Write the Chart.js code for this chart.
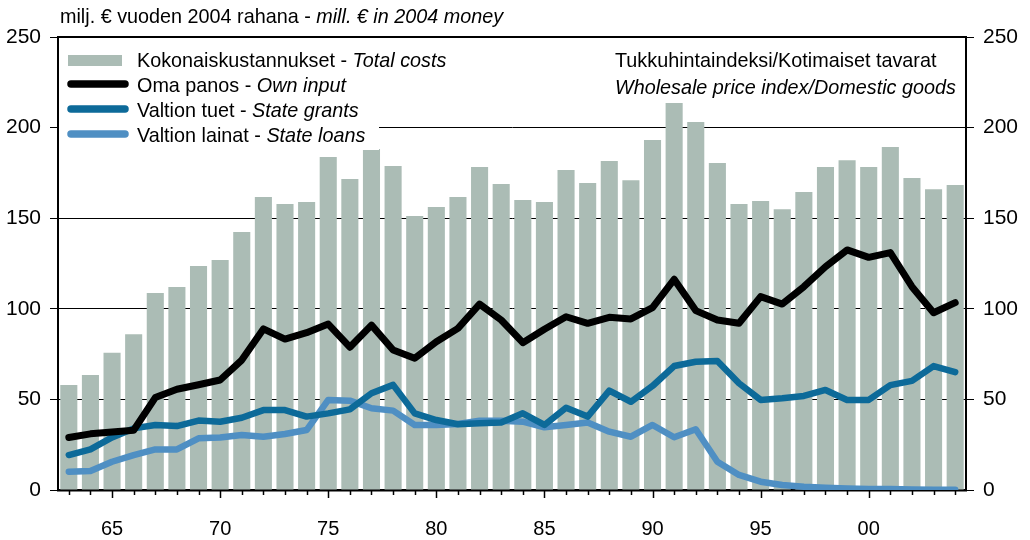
<!DOCTYPE html>
<html>
<head>
<meta charset="utf-8">
<script src="https://cdn.jsdelivr.net/npm/chart.js@4"></script>
<style>
  html, body { margin: 0; padding: 0; background: #fff; }
  #wrap { width: 1030px; height: 540px; }
</style>
</head>
<body>
<div id="wrap"><canvas id="costChart"></canvas></div>
<script>
/* ============================================================
   DATA (mill. € in 2004 money)
   ============================================================ */
const years = [1963, 1964, 1965, 1966, 1967, 1968, 1969, 1970, 1971, 1972, 1973, 1974, 1975, 1976,
    1977, 1978, 1979, 1980, 1981, 1982, 1983, 1984, 1985, 1986, 1987, 1988, 1989, 1990, 1991, 1992,
    1993, 1994, 1995, 1996, 1997, 1998, 1999, 2000, 2001, 2002, 2003, 2004];

const totalCosts = [58, 63.5, 75.8, 86, 108.7, 112, 123.6, 127, 142.4, 161.7, 157.8, 159, 183.8, 171.6,
    188.2, 178.8, 151.2, 156.2, 161.7, 178.3, 168.9, 160, 159, 176.6, 169.4, 181.6, 171, 193.2, 213.6, 203.1,
    180.5, 157.8, 159.5, 155, 164.5, 178.3, 182, 178.3, 189.3, 172.2, 166, 168.3];

const ownInput = [29, 31, 32, 33, 51, 55.6, 58.1, 60.7, 71.7, 88.9, 83.3, 86.8, 91.6, 78.8,
    91, 77.3, 72.7, 81.8, 89.2, 102.6, 93.8, 81.3, 88.7, 95.6, 92, 95.3, 94.4, 100.6, 116.3, 99,
    93.8, 92, 106.7, 102.6, 112.2, 123.2, 132.5, 128.4, 131, 112.2, 97.8, 103.4];

const stateGrants = [19.3, 22.4, 29, 34, 35.9, 35.3, 38.3, 37.7, 39.9, 44.1, 44.1, 40.5, 42.3, 44.5,
    53.4, 58, 42.3, 38.6, 36.3, 36.8, 37.2, 42.3, 35.9, 45.4, 40.5, 54.8, 48.7, 57.4, 68.4, 70.8,
    71.2, 58.9, 49.7, 50.6, 51.9, 55.2, 49.7, 49.7, 57.9, 60.2, 68.4, 65];

const stateLoans = [10.1, 10.5, 15.6, 19.3, 22.4, 22.4, 28.5, 29, 30.4, 29.4, 30.9, 33.1, 49.7, 49.3,
    45.1, 43.8, 35.9, 35.9, 36.4, 38.2, 38.2, 37.7, 34.6, 35.9, 37.2, 32.2, 29.4, 35.9, 29.1, 33.5,
    15.6, 8.3, 4.6, 2.8, 1.8, 1.2, 0.8, 0.6, 0.5, 0.3, 0.2, 0.1];

const yTicks = [0, 50, 100, 150, 200, 250];

const seriesNames = [
    ["Kokonaiskustannukset - ", "Total costs"],
    ["Oma panos - ", "Own input"],
    ["Valtion tuet - ", "State grants"],
    ["Valtion lainat - ", "State loans"]
];

/* ============================================================
   COLOURS / FONTS
   ============================================================ */
const BAR_COLOR = "#abbcb5";
const OWN_COLOR = "#000000";
const GRANT_COLOR = "#0d6a99";
const LOAN_COLOR = "#4f8fc3";
const FONT = "'Liberation Sans', Arial, sans-serif";

/* ============================================================
   TEXT, LEGEND AND X TICKS (drawn by hand for mixed italic text)
   ============================================================ */
function drawMixed(ctx, x, y, plain, italic, size) {
    ctx.font = size + "px " + FONT;
    ctx.fillText(plain, x, y);
    const w = ctx.measureText(plain).width;
    ctx.font = "italic " + size + "px " + FONT;
    ctx.fillText(italic, x + w, y);
}

const decorPlugin = {
    id: "decor",
    afterDatasetsDraw(chart) {
        const ctx = chart.ctx;
        const area = chart.chartArea;
        const xScale = chart.scales.x;

        ctx.save();

        // top frame line
        ctx.strokeStyle = "#000";
        ctx.lineWidth = 2;
        ctx.beginPath();
        ctx.moveTo(area.left, area.top);
        ctx.lineTo(area.right, area.top);
        ctx.stroke();

        // x tick marks, longer on labelled years
        ctx.lineWidth = 1.5;
        years.forEach((yr, i) => {
            const px = Math.round(xScale.getPixelForValue(i)) + 0.5;
            const len = yr % 5 === 0 ? 7 : 4;
            ctx.beginPath();
            ctx.moveTo(px, area.bottom + 1);
            ctx.lineTo(px, area.bottom + 1 + len);
            ctx.stroke();
        });

        // legend box
        ctx.fillStyle = "#fff";
        ctx.fillRect(area.left + 1, area.top + 1, 320, 112);

        ctx.fillStyle = BAR_COLOR;
        ctx.fillRect(area.left + 10, area.top + 18, 54, 11);

        const lineColors = [OWN_COLOR, GRANT_COLOR, LOAN_COLOR];
        ctx.lineCap = "round";
        ctx.lineWidth = 7.5;
        lineColors.forEach((c, i) => {
            const ly = area.top + 47 + i * 25;
            ctx.strokeStyle = c;
            ctx.beginPath();
            ctx.moveTo(area.left + 13, ly);
            ctx.lineTo(area.left + 67, ly);
            ctx.stroke();
        });

        ctx.fillStyle = "#000";
        ctx.textBaseline = "alphabetic";
        ctx.textAlign = "left";
        seriesNames.forEach((n, i) => {
            drawMixed(ctx, area.left + 79, area.top + 30 + i * 25, n[0], n[1], 19.8);
        });

        // price index note
        ctx.font = "19.8px " + FONT;
        ctx.fillText("Tukkuhintaindeksi/Kotimaiset tavarat", 615, area.top + 30);
        ctx.font = "italic 19.8px " + FONT;
        ctx.fillText("Wholesale price index/Domestic goods", 615, area.top + 57);

        // unit title
        drawMixed(ctx, 60, 23, "milj. € vuoden 2004 rahana - ", "mill. € in 2004 money", 19.8);

        ctx.restore();
    }
};

/* ============================================================
   CHART
   ============================================================ */
const yAxisCommon = {
    min: 0,
    max: 250,
    afterBuildTicks: scale => { scale.ticks = yTicks.map(v => ({ value: v })); },
    border: { display: true, color: "#000", width: 2 },
    ticks: {
        color: "#000",
        font: { family: FONT, size: 21 },
        padding: 9
    }
};

new Chart(document.getElementById("costChart"), {
    type: "bar",
    data: {
        labels: years,
        datasets: [
            {
                type: "line",
                data: ownInput,
                borderColor: OWN_COLOR,
                borderWidth: 7,
                pointRadius: 0,
                tension: 0,
                borderJoinStyle: "round",
                borderCapStyle: "round",
                order: 1
            },
            {
                type: "line",
                data: stateGrants,
                borderColor: GRANT_COLOR,
                borderWidth: 6.5,
                pointRadius: 0,
                tension: 0,
                borderJoinStyle: "round",
                borderCapStyle: "round",
                order: 2
            },
            {
                type: "line",
                data: stateLoans,
                borderColor: LOAN_COLOR,
                borderWidth: 6.5,
                pointRadius: 0,
                tension: 0,
                borderJoinStyle: "round",
                borderCapStyle: "round",
                order: 3
            },
            {
                data: totalCosts,
                backgroundColor: BAR_COLOR,
                categoryPercentage: 1,
                barPercentage: 0.79,
                order: 4
            }
        ]
    },
    options: {
        responsive: true,
        maintainAspectRatio: false,
        animation: false,
        layout: { padding: { top: 37, left: 0, right: 0, bottom: 0 } },
        plugins: {
            legend: { display: false },
            tooltip: { enabled: false }
        },
        scales: {
            x: {
                offset: true,
                grid: { display: false, drawTicks: false },
                border: { display: true, color: "#000", width: 2.5 },
                afterFit: scale => { scale.height = 50; },
                ticks: {
                    autoSkip: false,
                    maxRotation: 0,
                    color: "#000",
                    padding: 27,
                    font: { family: FONT, size: 20 },
                    callback: (val, i) => years[i] % 5 === 0 ? String(years[i]).slice(2) : ""
                }
            },
            y: {
                ...yAxisCommon,
                position: "left",
                afterFit: scale => { scale.width = 58; },
                grid: { color: "#000", lineWidth: 1, tickLength: 8, tickColor: "#000" }
            },
            y2: {
                ...yAxisCommon,
                position: "right",
                afterFit: scale => { scale.width = 64; },
                grid: { drawOnChartArea: false, tickLength: 8, color: "#000", tickColor: "#000" }
            }
        }
    },
    plugins: [decorPlugin]
});
</script>
</body>
</html>
